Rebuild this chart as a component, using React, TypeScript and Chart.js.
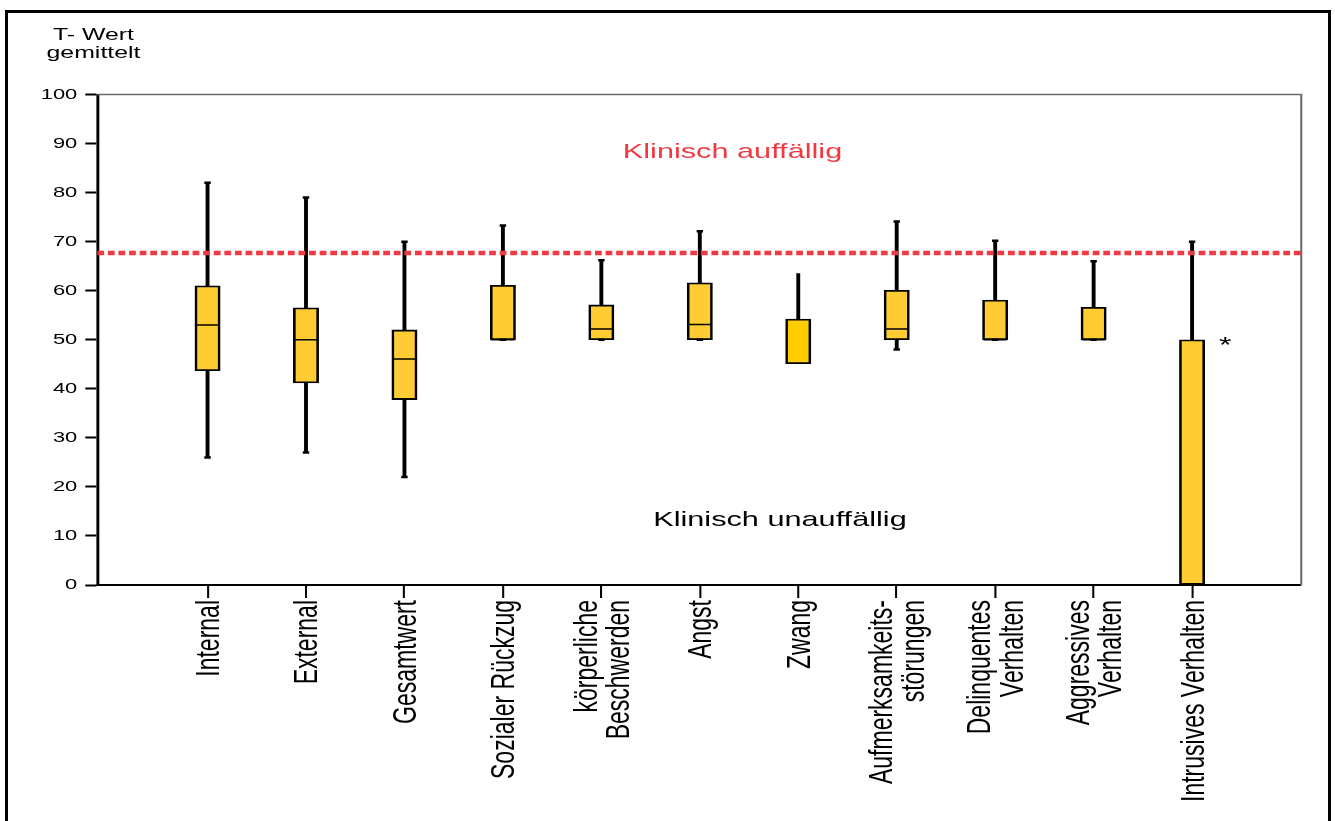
import React, { useEffect, useRef } from 'react';
import { Chart, registerables } from 'chart.js';

Chart.register(...registerables);

// ---------- data ----------
const CATEGORIES: string[][] = [
  ['Internal'],
  ['External'],
  ['Gesamtwert'],
  ['Sozialer Rückzug'],
  ['körperliche', 'Beschwerden'],
  ['Angst'],
  ['Zwang'],
  ['Aufmerksamkeits-', 'störungen'],
  ['Delinquentes', 'Verhalten'],
  ['Aggressives', 'Verhalten'],
  ['Intrusives Verhalten'],
];
const WHISKER_LOW = [26, 27, 22, 50, 50, 50, 45.1, 48, 50, 50, 0];
const Q1 = [43.7, 41.2, 37.8, 50, 50, 50, 45.1, 50, 50, 50, 0];
const MEDIAN: (number | null)[] = [53, 50, 46.1, 50, 52.2, 53.1, null, 52.2, 50, 50, null];
const Q3 = [61, 56.5, 52, 61.1, 57.1, 61.6, 54.2, 60.1, 58.1, 56.6, 50];
const WHISKER_HIGH = [82, 79, 70, 73.3, 66.2, 72.1, 63.5, 74.1, 70.2, 66, 70];
const TOP_CAP = [true, true, true, true, true, true, false, true, true, true, true];
const LOW_CAP = [true, true, true, true, true, true, false, true, true, true, false];
const Y_MIN = 0;
const Y_MAX = 100;
const Y_STEP = 10;
const CLINICAL_CUTOFF = 67.7;
const TITLE_LINES = ['T- Wert', 'gemittelt'];
const LABEL_ABOVE = 'Klinisch auffällig';
const LABEL_BELOW = 'Klinisch unauffällig';
const OUTLIER_MARK = '*';

// ---------- layout / style ----------
const W = 914;
const H = 821;
const SX = 1335 / W; // horizontal stretch of the original picture
const X_MIN = -1.12;
const X_MAX = 11.109;
const FONT = "'Liberation Sans', Arial, Helvetica, sans-serif";
const BOX_FILL = '#ffcc33';
const BOX_FILL_ALT = '#ffcc00';
const RED = '#ef3a43';

const boxColors = CATEGORIES.map((_, i) => (i === 6 ? BOX_FILL_ALT : BOX_FILL));

const stretchPlugin = {
  id: 'stretch',
  beforeDraw(chart: any) {
    chart.ctx.setTransform(SX, 0, 0, 1, 0, 0);
  },
};

const framePlugin = {
  id: 'frameLines',
  beforeDatasetsDraw(chart: any) {
    const { ctx, chartArea } = chart;
    ctx.save();
    ctx.strokeStyle = '#6a6a6a';
    ctx.lineWidth = 1.4;
    ctx.beginPath();
    ctx.moveTo(chartArea.left, chartArea.top);
    ctx.lineTo(chartArea.right, chartArea.top);
    ctx.lineTo(chartArea.right, chartArea.bottom);
    ctx.stroke();
    ctx.restore();
  },
};

const textPlugin = {
  id: 'texts',
  afterDraw(chart: any) {
    const { ctx } = chart;
    const xs = chart.scales.x;
    const ys = chart.scales.y;
    ctx.save();
    // title
    ctx.fillStyle = '#000';
    ctx.font = `17px ${FONT}`;
    ctx.textAlign = 'center';
    ctx.textBaseline = 'alphabetic';
    ctx.fillText(TITLE_LINES[0], 64, 40);
    ctx.fillText(TITLE_LINES[1], 64, 57.5);

    // annotations
    ctx.font = `21px ${FONT}`;
    ctx.textBaseline = 'middle';
    ctx.fillStyle = RED;
    ctx.fillText(LABEL_ABOVE, xs.getPixelForValue(5.332), ys.getPixelForValue(88.2));
    ctx.fillStyle = '#000';
    ctx.fillText(LABEL_BELOW, xs.getPixelForValue(5.814), ys.getPixelForValue(13.3));
    ctx.font = `22px ${FONT}`;
    ctx.fillText(OUTLIER_MARK, xs.getPixelForValue(10.337), ys.getPixelForValue(48.7));

    // x tick labels (rotated)
    ctx.font = `23px ${FONT}`;
    ctx.fillStyle = '#000';
    ctx.textAlign = 'right';
    ctx.textBaseline = 'middle';
    const lineH = 22.3;
    CATEGORIES.forEach((lines, i) => {
      const px = xs.getPixelForValue(i) + 1.5;
      const n = lines.length;
      lines.forEach((line, j) => {
        ctx.save();
        ctx.translate(px + (j - (n - 1) / 2) * lineH, xs.top + 15);
        ctx.rotate(-Math.PI / 2);
        ctx.fillText(line, 0, 0);
        ctx.restore();
      });
    });
    ctx.restore();
  },
};

export default function App() {
  const ref = useRef<HTMLCanvasElement | null>(null);

  useEffect(() => {
    const canvas = ref.current!;
    canvas.width = W;
    canvas.height = H;

    const boxes = CATEGORIES.map((_, i) => ({ x: i, y: [Q1[i], Q3[i]] }));
    const whiskers = CATEGORIES.map((_, i) => ({ x: i, y: [WHISKER_LOW[i], WHISKER_HIGH[i]] }));
    const medians = CATEGORIES.map((_, i) => ({ x: i, y: MEDIAN[i] })).filter((p) => p.y !== null);
    const caps: { x: number; y: number }[] = [];
    CATEGORIES.forEach((_, i) => {
      if (TOP_CAP[i]) caps.push({ x: i, y: WHISKER_HIGH[i] });
      if (LOW_CAP[i]) caps.push({ x: i, y: WHISKER_LOW[i] });
    });

    const chart = new Chart(canvas, {
      type: 'bar',
      data: {
        datasets: [
          {
            type: 'line',
            label: 'cutoff',
            data: [
              { x: X_MIN, y: CLINICAL_CUTOFF },
              { x: X_MAX, y: CLINICAL_CUTOFF },
            ],
            borderColor: RED,
            borderWidth: 4.5,
            borderDash: [4.65, 2.6],
            pointRadius: 0,
            order: 0,
          } as any,
          {
            type: 'scatter',
            label: 'median',
            data: medians,
            pointStyle: 'line',
            pointRadius: 8,
            pointBorderColor: '#000',
            pointBorderWidth: 1.5,
            borderColor: '#000',
            order: 1,
          } as any,
          {
            type: 'scatter',
            label: 'caps',
            data: caps,
            pointStyle: 'line',
            pointRadius: 2.2,
            pointBorderColor: '#000',
            pointBorderWidth: 2.5,
            borderColor: '#000',
            order: 1,
          } as any,
          {
            type: 'bar',
            label: 'box',
            data: boxes,
            backgroundColor: boxColors,
            borderColor: '#000',
            borderWidth: 1.8,
            borderSkipped: false,
            barThickness: 17.1,
            grouped: false,
            order: 2,
          } as any,
          {
            type: 'bar',
            label: 'whisker',
            data: whiskers,
            backgroundColor: '#000',
            borderWidth: 0,
            barThickness: 2,
            grouped: false,
            order: 3,
          } as any,
        ],
      },
      options: {
        responsive: false,
        animation: false,
        devicePixelRatio: 1,
        events: [],
        layout: { padding: { top: 94.5, right: 23.1, left: 0, bottom: 0 } },
        plugins: {
          legend: { display: false },
          tooltip: { enabled: false },
          title: { display: false },
        },
        scales: {
          x: {
            type: 'linear',
            min: X_MIN,
            max: X_MAX,
            offset: false,
            afterBuildTicks: (s: any) => {
              s.ticks = CATEGORIES.map((_, i) => ({ value: i }));
            },
            afterFit: (s: any) => {
              s.height = H - 585;
            },
            ticks: { display: false },
            grid: {
              offset: false,
              drawOnChartArea: false,
              drawTicks: true,
              tickLength: 13,
              tickWidth: 1.4,
              tickColor: '#000',
            },
            border: { display: true, color: '#000', width: 2 },
          },
          y: {
            type: 'linear',
            min: Y_MIN,
            max: Y_MAX,
            afterFit: (s: any) => {
              s.width = 66.6;
            },
            ticks: {
              stepSize: Y_STEP,
              color: '#000',
              font: { family: FONT, size: 15 },
              padding: 5.5,
            },
            grid: {
              drawOnChartArea: false,
              drawTicks: true,
              tickLength: 8.2,
              tickWidth: 2,
              tickColor: '#000',
            },
            border: { display: true, color: '#000', width: 2 },
          },
        },
      } as any,
      plugins: [stretchPlugin, framePlugin, textPlugin],
    });

    // widen the backing store so the horizontally stretched drawing is crisp
    canvas.width = 1335;
    canvas.height = H;
    canvas.style.width = '1335px';
    canvas.style.height = `${H}px`;
    chart.draw();

    return () => chart.destroy();
  }, []);

  return (
    <>
      <div
        style={{
          position: 'fixed',
          left: 5,
          top: 10,
          width: 1326,
          height: 840,
          border: '3px solid #000',
          boxSizing: 'border-box',
          background: '#fff',
        }}
      />
      <canvas
        ref={ref}
        width={W}
        height={H}
        style={{ position: 'fixed', left: 0, top: 0, width: 1335, height: H }}
      />
    </>
  );
}
